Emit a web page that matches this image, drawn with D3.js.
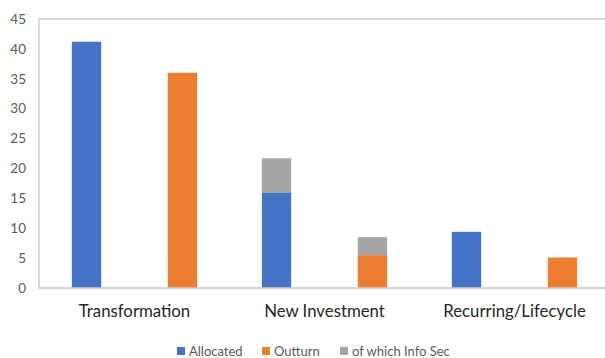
<!DOCTYPE html>
<html><head><meta charset="utf-8">
<script src="https://cdn.jsdelivr.net/npm/d3@7"></script>
<style>body{margin:0;background:#fff}svg{display:block}</style>
</head><body>
<svg id="c" width="605" height="358"></svg>
<script>
const categories = ["Transformation", "New Investment", "Recurring/Lifecycle"];
const series = ["Allocated", "Outturn"];
const allocated = [41.2, 16, 9.4];
const outturn = [36, 5.5, 5.1];
const allocatedInfoSec = [0, 5.7, 0];
const outturnInfoSec = [0, 3, 0];
const yTicks = [0, 5, 10, 15, 20, 25, 30, 35, 40, 45];
const legendLabels = ["Allocated", "Outturn", "of which Info Sec"];
const colors = {Allocated: "#4472C4", Outturn: "#ED7D31", Info: "#A5A5A5"};

const svg = d3.select("#c");
const mLeft = 39, mTop = 19, mBottom = 288, mRight = 609.5;
const x0 = d3.scaleBand().domain(categories).range([mLeft + 0.5, mRight]).padding(0);
const x1 = d3.scaleBand().domain(series).range([0, x0.bandwidth()]).paddingInner(0.694).paddingOuter(0.337);
const y = d3.scaleLinear().domain([0, 45]).range([mBottom, mTop]);

// plot border
svg.append("rect").attr("x", mLeft).attr("y", mTop).attr("width", mRight - mLeft + 10).attr("height", mBottom - mTop)
  .attr("fill", "none").attr("stroke", "#D0D0D0").attr("stroke-width", 1.6);

// y axis labels
const ya = svg.append("g").attr("transform", `translate(${mLeft},0)`)
  .call(d3.axisLeft(y).tickValues(yTicks).tickSize(0).tickPadding(13));
ya.select(".domain").remove();
ya.selectAll("text").attr("fill", "#595959").style("font-family", "Lato, 'Open Sans', sans-serif").style("font-size", "13.5px");

const rows = categories.map((c, i) => ({
  c,
  bars: [
    {s: "Allocated", v: allocated[i], info: allocatedInfoSec[i]},
    {s: "Outturn", v: outturn[i], info: outturnInfoSec[i]}
  ]
}));

const g = svg.append("g");
rows.forEach(r => {
  r.bars.forEach(b => {
    const bx = x0(r.c) + x1(b.s);
    g.append("rect").attr("x", bx).attr("width", x1.bandwidth())
      .attr("y", y(b.v)).attr("height", y(0) - y(b.v)).attr("fill", colors[b.s]);
    if (b.info > 0) {
      g.append("rect").attr("x", bx).attr("width", x1.bandwidth())
        .attr("y", y(b.v + b.info)).attr("height", y(b.v) - y(b.v + b.info)).attr("fill", colors.Info);
    }
  });
});

// baseline
svg.append("line").attr("x1", mLeft).attr("x2", 605).attr("y1", y(0)).attr("y2", y(0))
  .attr("stroke", "#D0D0D0").attr("stroke-width", 1.6);

// x axis labels
const xa = svg.append("g").attr("transform", `translate(0,${mBottom})`)
  .call(d3.axisBottom(x0).tickSize(0).tickPadding(17));
xa.select(".domain").remove();
xa.selectAll("text").attr("fill", "#262626").style("font-family", "Lato, 'Open Sans', sans-serif").style("font-size", "16.8px");

// legend
const legX = [177, 262, 340];
const leg = svg.append("g");
legendLabels.forEach((l, i) => {
  const col = [colors.Allocated, colors.Outturn, colors.Info][i];
  leg.append("rect").attr("x", legX[i]).attr("y", 347).attr("width", 8).attr("height", 8).attr("fill", col);
  leg.append("text").attr("x", legX[i] + 12).attr("y", 355.5).text(l)
    .attr("fill", "#595959").style("font-family", "Lato, 'Open Sans', sans-serif").style("font-size", "13px");
});
</script>
</body></html>
